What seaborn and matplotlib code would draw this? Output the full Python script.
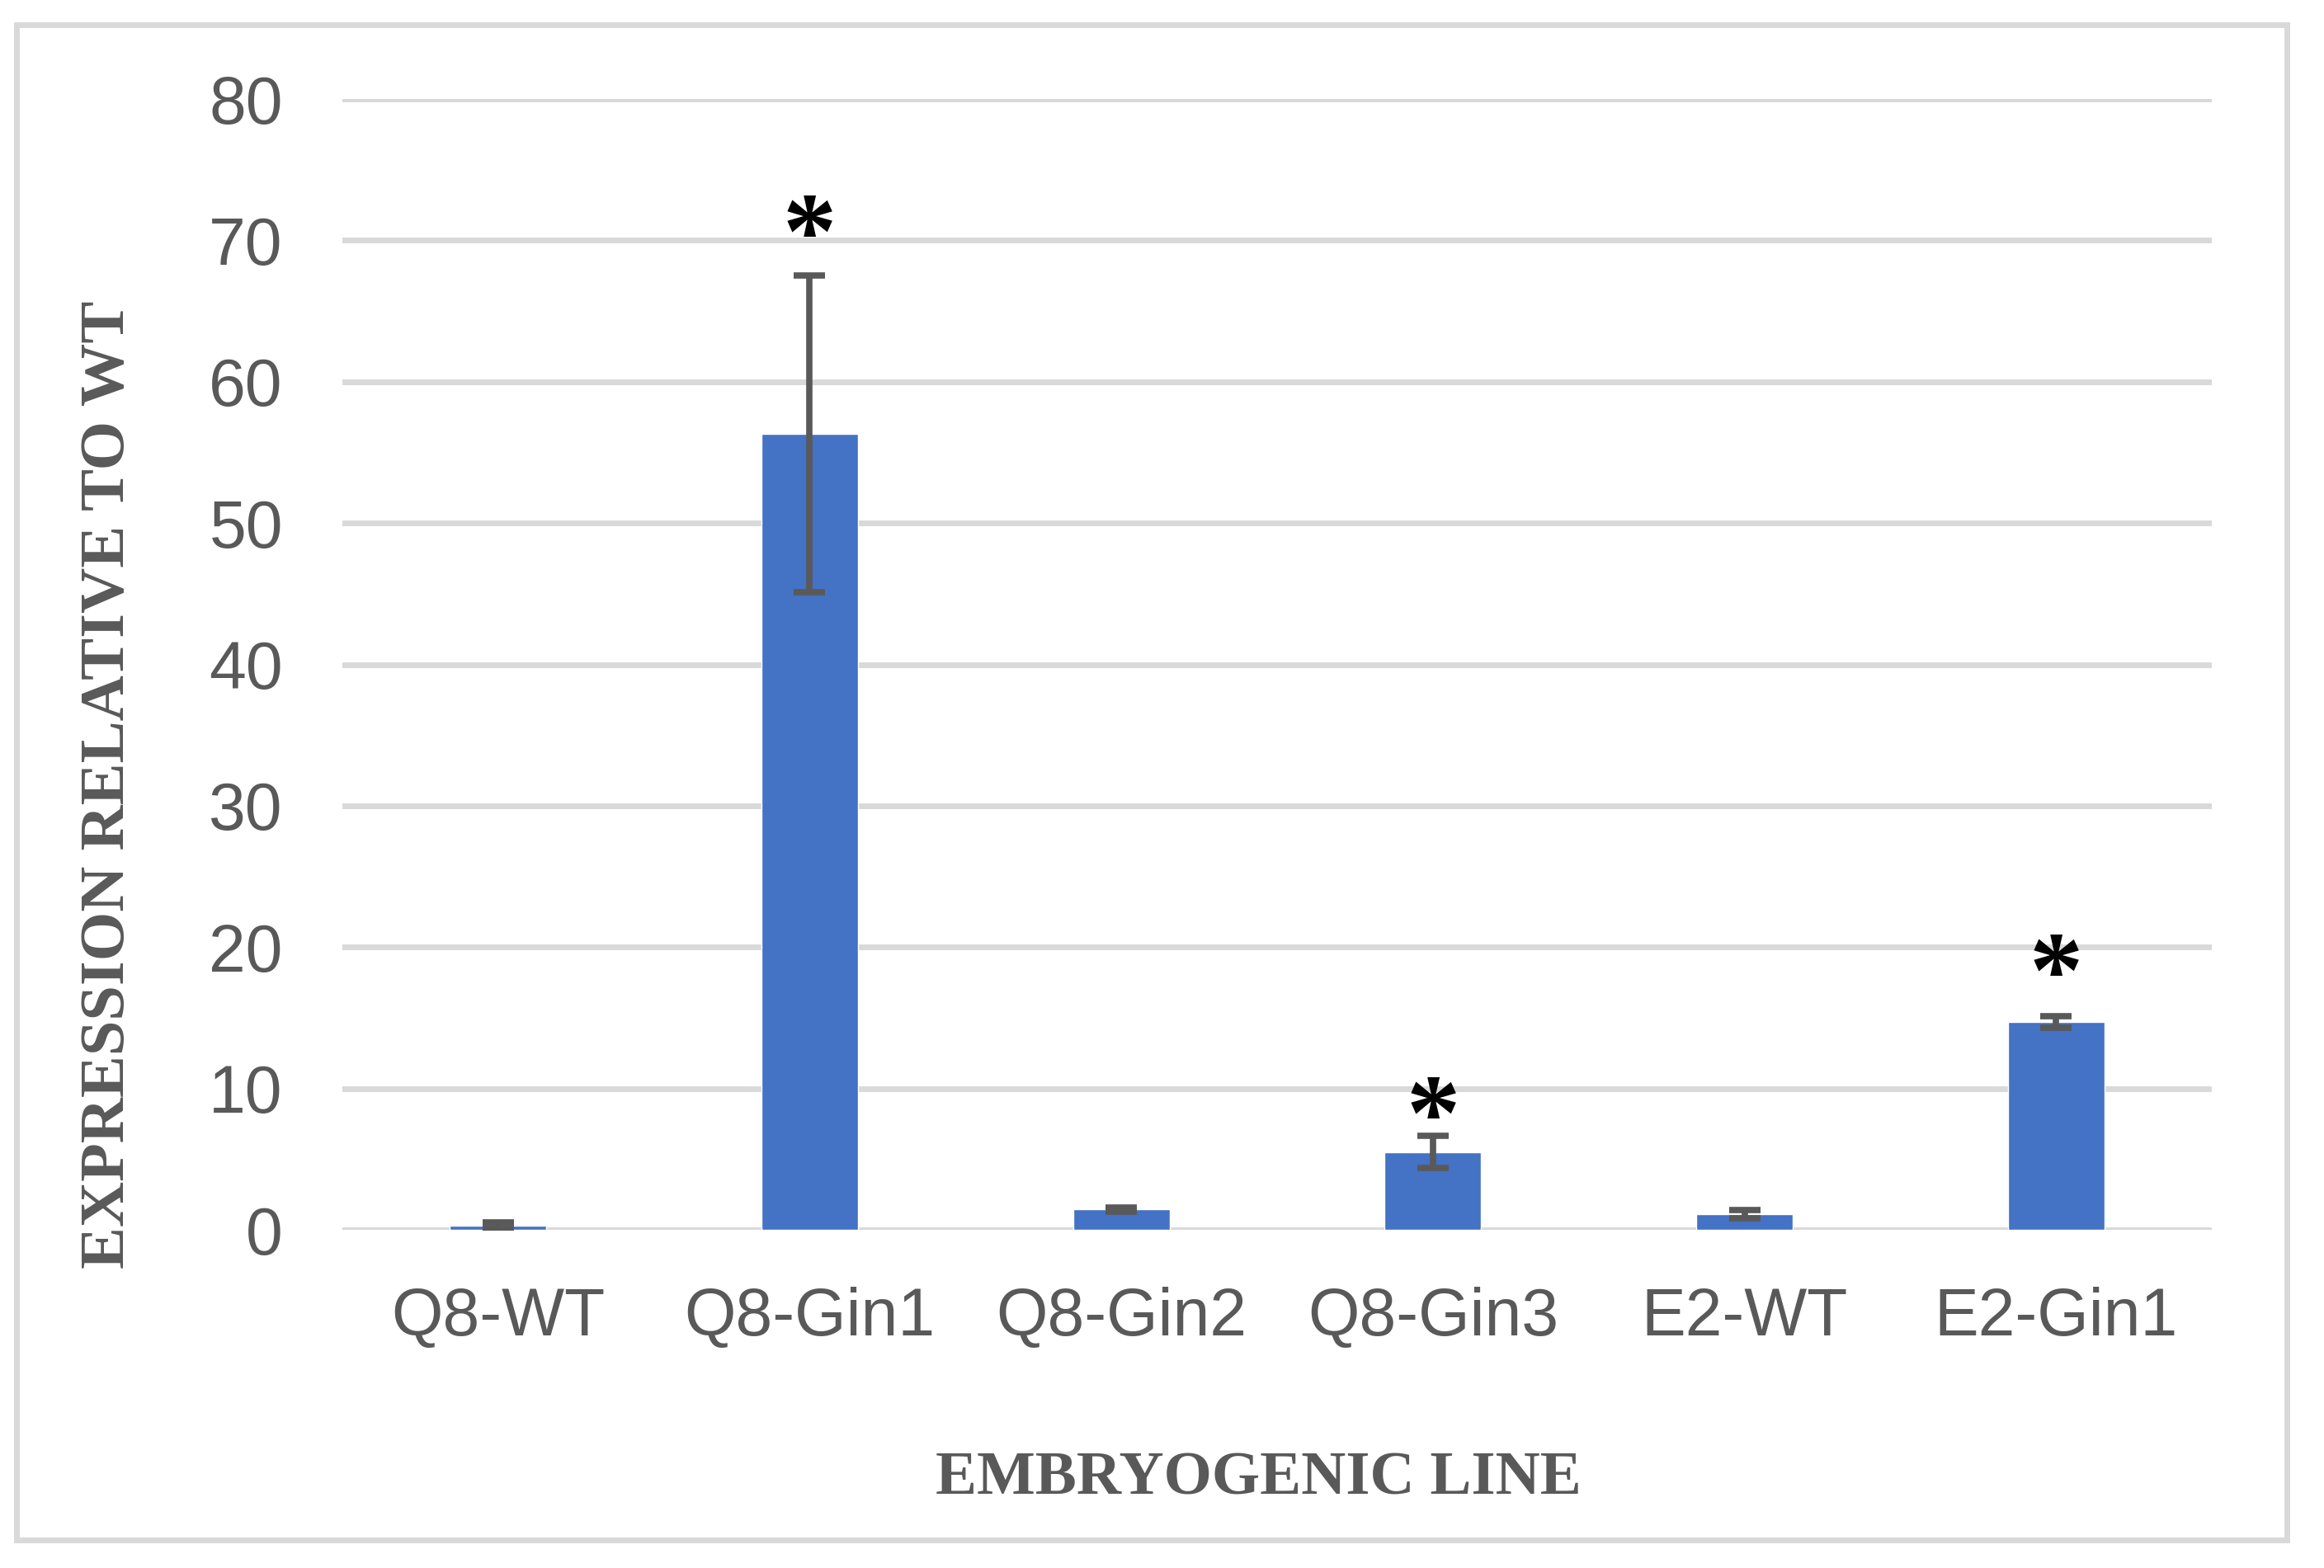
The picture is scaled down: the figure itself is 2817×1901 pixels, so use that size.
import numpy as np
import pandas as pd
import matplotlib
matplotlib.use("Agg")
from matplotlib import pyplot as plt
from matplotlib.patches import Rectangle
import seaborn as sns

# values
lines = ['Q8-WT', 'Q8-Gin1', 'Q8-Gin2', 'Q8-Gin3', 'E2-WT', 'E2-Gin1']
expression = [0.3, 56.3, 1.45, 5.5, 1.1, 14.7]
errors = [0.2, 11.2, 0.15, 1.15, 0.3, 0.4]
significant = [False, True, False, True, False, True]
star_heights = [0, 71.9, 0, 9.5, 0, 19.6]
yticks = [0, 10, 20, 30, 40, 50, 60, 70, 80]

BLUE = '#4472C4'
GREY = '#595959'
GRID = '#D9D9D9'
W, H = 2817, 1901

df = pd.DataFrame({'line': lines, 'expression': expression})

sns.set_style('white')
plt.rcParams['font.family'] = ['Liberation Sans', 'DejaVu Sans']

fig = plt.figure(figsize=(W / 100, H / 100), dpi=100)
ax = fig.add_axes([415 / W, 1 - 1491 / H, (2681 - 415) / W, (1491 - 120) / H])

sns.barplot(data=df, x='line', y='expression', color=BLUE, saturation=1,
            width=0.31, errorbar=None, ax=ax, zorder=2)
ax.errorbar(np.arange(len(lines)), expression, yerr=errors, fmt='none',
            ecolor=GREY, elinewidth=5.5, capsize=14, capthick=5.5, zorder=3)

# text box centre sits above the glyph ink, so nudge down
ink_shift = 1.95
for i, (sig, h) in enumerate(zip(significant, star_heights)):
    if sig:
        ax.text(i, h - ink_shift, '*', ha='center', va='center', fontsize=94,
                fontweight='bold', family='Liberation Serif', color='black', zorder=4)

ax.set_ylim(0, 80)
ax.set_xlim(-0.5, len(lines) - 0.5)
ax.set_yticks(yticks)
ax.yaxis.grid(True, color=GRID, linewidth=5)
ax.set_axisbelow(True)
for s in ax.spines.values():
    s.set_visible(False)
ax.tick_params(axis='both', length=0, labelsize=58, labelcolor=GREY)
ax.tick_params(axis='y', pad=52)
ax.tick_params(axis='x', pad=50)
ax.set_xlabel('')
ax.set_ylabel('')

fig.text(1525 / W, 1 - 1794 / H, 'EMBRYOGENIC LINE', ha='center', va='center',
         fontsize=54, fontweight='bold', family='Liberation Serif', color=GREY)
fig.text(132 / W, 1 - 951 / H, 'EXPRESSION RELATIVE TO WT', ha='center', va='center',
         rotation=90, fontsize=55, fontweight='bold', family='Liberation Serif', color=GREY)

fig.patches.append(Rectangle((20 / W, 1 - 1867 / H), (2772 - 20) / W, (1867 - 30) / H,
                             transform=fig.transFigure, fill=False, edgecolor=GRID, linewidth=5))

plt.savefig('out.png', dpi=100)
